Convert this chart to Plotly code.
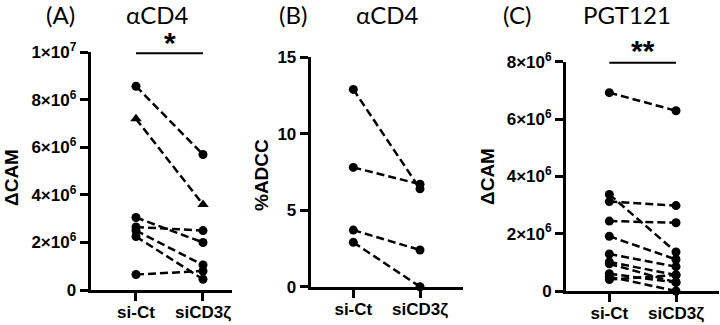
import plotly.graph_objects as go

categories = ["si-Ct", "siCD3ζ"]

# Panel A: αCD4, ΔCAM
A_sict = [8.57e6, 7.2e6, 3.05e6, 2.65e6, 2.5e6, 2.25e6, 0.65e6]
A_sicd3 = [5.7e6, 3.6e6, 2.0e6, 2.5e6, 1.05e6, 0.45e6, 0.8e6]
A_symbols = ["circle", "triangle-up", "circle", "circle", "circle", "circle", "circle"]

# Panel B: αCD4, %ADCC
B_sict = [12.9, 7.8, 3.7, 2.9]
B_sicd3 = [6.4, 6.7, 2.4, 0.0]

# Panel C: PGT121, ΔCAM
C_sict = [6.92e6, 3.37e6, 3.12e6, 2.44e6, 1.91e6, 1.29e6, 1.01e6, 0.95e6, 0.6e6, 0.5e6, 0.4e6]
C_sicd3 = [6.29e6, 1.36e6, 2.98e6, 2.38e6, 1.1e6, 0.85e6, 0.56e6, 0.3e6, 0.3e6, 0.0, 0.56e6]

A_ticks = [0, 2e6, 4e6, 6e6, 8e6, 1e7]
A_ticktext = ["0", "2×10<sup>6</sup>", "4×10<sup>6</sup>", "6×10<sup>6</sup>", "8×10<sup>6</sup>", "1×10<sup>7</sup>"]
B_ticks = [0, 5, 10, 15]
B_ticktext = ["0", "5", "10", "15"]
C_ticks = [0, 2e6, 4e6, 6e6, 8e6]
C_ticktext = ["0", "2×10<sup>6</sup>", "4×10<sup>6</sup>", "6×10<sup>6</sup>", "8×10<sup>6</sup>"]

W, H = 720, 325
fig = go.Figure()

def add_pairs(left, right, xa, ya, symbols=None):
    for i, (a, b) in enumerate(zip(left, right)):
        sym = symbols[i] if symbols else "circle"
        fig.add_trace(go.Scatter(
            x=[0, 1], y=[a, b], xaxis=xa, yaxis=ya, mode="lines+markers",
            line=dict(color="black", width=2.5, dash="8px,4px"),
            marker=dict(color="black", size=9 if sym == "circle" else 10, symbol=sym),
            showlegend=False, hoverinfo="y", cliponaxis=False))

add_pairs(A_sict, A_sicd3, "x", "y", A_symbols)
add_pairs(B_sict, B_sicd3, "x2", "y2")
add_pairs(C_sict, C_sicd3, "x3", "y3")

def bold(lst):
    return ["<b>" + t + "</b>" for t in lst]

tickfont = dict(family="Liberation Sans", size=17, color="black")

def xaxis(dom, rng, anchor):
    return dict(domain=dom, range=rng, anchor=anchor, tickvals=[0, 1], ticktext=bold(categories),
                showline=True, linecolor="black", linewidth=3, ticks="outside", ticklen=8,
                tickwidth=3, tickcolor="black", showgrid=False, zeroline=False,
                tickfont=dict(family="Liberation Sans", size=17, color="black"),
                ticklabelstandoff=-3,
                fixedrange=True, automargin=False)

def yaxis(dom, rng, anchor, tv, tt):
    return dict(domain=dom, range=rng, anchor=anchor, tickvals=tv, ticktext=bold(tt),
                showline=True, linecolor="black", linewidth=3, ticks="outside", ticklen=8,
                tickwidth=3, tickcolor="black", showgrid=False, zeroline=False,
                tickfont=tickfont, fixedrange=True, automargin=False)

def px(x0, x1):
    return [x0 / W, x1 / W]

def py(top, bottom):
    return [(H - bottom) / H, (H - top) / H]

fig.update_layout(
    width=W, height=H, margin=dict(l=0, r=0, t=0, b=0, autoexpand=False),
    plot_bgcolor="white", paper_bgcolor="white",
    xaxis=xaxis(px(90.7, 232), [-0.676, 1.433], "y"),
    yaxis=yaxis(py(52.3, 290), [0, 1e7], "x", A_ticks, A_ticktext),
    xaxis2=xaxis(px(310.7, 462.7), [-0.639, 1.64], "y2"),
    yaxis2=yaxis(py(57.3, 286.7), [0, 15], "x2", B_ticks, B_ticktext),
    xaxis3=xaxis(px(566, 719), [-0.65, 1.645], "y3"),
    yaxis3=yaxis(py(61.7, 291), [0, 8e6], "x3", C_ticks, C_ticktext),
)

# significance bars
fig.add_shape(type="line", xref="x", yref="y", x0=0, x1=1, y0=1e7, y1=1e7,
              line=dict(color="black", width=4))
fig.add_shape(type="line", xref="x3", yref="y3", x0=0, x1=1, y0=8e6, y1=8e6,
              line=dict(color="black", width=4))

def ann(text, x, y, size, angle=0, family="Lato"):
    fig.add_annotation(text=text, x=x / W, y=(H - y) / H, xref="paper", yref="paper",
                       showarrow=False, textangle=angle, xanchor="center", yanchor="middle",
                       font=dict(family=family, size=size, color="black"))

ann("(A)", 60, 15, 24)
ann("αCD4", 157, 15, 24)
ann("(B)", 293, 15, 24)
ann("αCD4", 387, 15, 24)
ann("(C)", 517, 15, 24)
ann("PGT121", 627, 15, 24)

ann("<b>*</b>", 170, 42, 30, family="Liberation Sans")
ann("<b>**</b>", 643, 50, 30, family="Liberation Sans")

ann("<b>ΔCAM</b>", 11, 178, 19, angle=-90, family="Liberation Sans")
ann("<b>%ADCC</b>", 261, 175, 19, angle=-90, family="Liberation Sans")
ann("<b>ΔCAM</b>", 487, 177, 19, angle=-90, family="Liberation Sans")

fig.write_html("out.html", config={"displayModeBar": False},
               post_script="document.body.style.margin='0';document.body.style.overflow='hidden';")
